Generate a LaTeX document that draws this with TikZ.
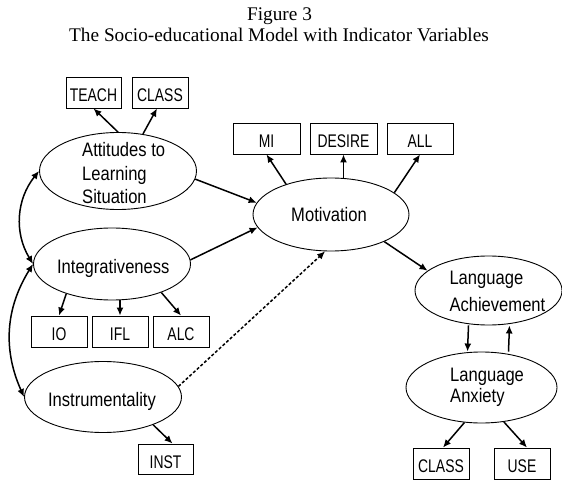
\documentclass[tikz,border=0pt]{standalone}
\usepackage{fontspec}
\setmainfont{Liberation Serif}
\newfontfamily\ellfont[FakeStretch=0.85]{Liberation Sans}
\newfontfamily\boxfont[FakeStretch=0.76]{Liberation Sans}
\usetikzlibrary{shapes.geometric,arrows.meta}

\begin{document}
\begin{tikzpicture}[x=1pt, y=-1pt,
    ell/.style = {draw, ellipse, inner sep=0pt, line width=0.9pt},
    ind/.style = {draw, inner sep=0pt, minimum width=56pt, minimum height=31pt,
      line width=0.9pt, text height=18pt, text depth=0pt,
      font=\boxfont\fontsize{18.3}{18}\selectfont},
    lbl/.style = {inner sep=0pt, align=left, font=\ellfont\fontsize{19.5}{23.3}\selectfont},
    arr/.style = {-{Latex[length=8pt,width=7pt]}, line width=1.5pt},
    dbl/.style = {{Latex[length=8pt,width=7pt]}-{Latex[length=8pt,width=7pt]}, line width=1.5pt},
    ttl/.style = {inner sep=0pt, anchor=base, font=\fontsize{19.3}{23}\selectfont}]
  \useasboundingbox (0,0) rectangle (562,481);

  % title
  \node [ttl] (fig) at (279.5,21) {Figure 3};
  \node [ttl] (head) at (279,42) {The Socio-educational Model with Indicator Variables};

  % latent variables
  \node [ell, minimum width=157pt, minimum height=77pt] (att) at (118,171) {};
  \node [ell, minimum width=157pt, minimum height=72pt] (int) at (112,264) {};
  \node [ell, minimum width=157pt, minimum height=71pt] (ins) at (103,397) {};
  \node [ell, minimum width=156pt, minimum height=73pt] (mot) at (331,214.5) {};
  \node [ell, minimum width=147pt, minimum height=69pt] (lach) at (488.5,290.5) {};
  \node [ell, minimum width=151pt, minimum height=71pt] (lanx) at (481.5,387.5) {};

  \node [lbl, anchor=north west] (att-l) at (82,142.5) {Attitudes to\\Learning\\Situation};
  \node [lbl, anchor=base] (int-l) at (113.3,273.3) {Integrativeness};
  \node [lbl, anchor=base] (ins-l) at (102,406) {Instrumentality};
  \node [lbl, anchor=base] (mot-l) at (329,222) {Motivation};
  \node [lbl, anchor=north west, font=\ellfont\fontsize{19.5}{26.7}\selectfont]
    (lach-l) at (449.3,271) {Language\\Achievement};
  \node [lbl, anchor=north west, font=\ellfont\fontsize{19.5}{21.5}\selectfont]
    (lanx-l) at (450,367.7) {Language\\Anxiety};

  % indicators
  \node [ind, minimum width=55pt] (teach) at (93.5,92.5) {TEACH};
  \node [ind] (classa) at (160,92.5) {CLASS};
  \node [ind, minimum width=67pt] (mi) at (266.5,138.5) {MI};
  \node [ind, minimum width=67pt] (desire) at (343.5,138.5) {DESIRE};
  \node [ind, minimum width=66pt] (all) at (420,138.5) {ALL};
  \node [ind] (io) at (59,331.5) {IO};
  \node [ind] (ifl) at (120,331.5) {IFL};
  \node [ind] (alc) at (181,331.5) {ALC};
  \node [ind, minimum width=55pt, minimum height=30pt] (inst) at (165.5,459) {INST};
  \node [ind] (classb) at (441,463.5) {CLASS};
  \node [ind] (use) at (522,463.5) {USE};

  % paths
  \draw [arr] (att.north) -- (teach.south);
  \draw [arr] (att.56) -- ([xshift=-3pt]classa.south);
  \draw [arr] (att.-6) -- (mot.171);
  \draw [arr] (int.3) -- (mot.190);
  \draw [arr, dash pattern=on 3pt off 2pt] (ins.8) -- (mot.261);
  \draw [arr] (mot.146) -- (mi.south);
  \draw [arr] (mot.north -| desire.south) -- (desire.south);
  \draw [arr] (mot.19) -- (all.south);
  \draw [arr] (mot.-27) -- (lach.162);
  \draw [arr] ([xshift=-20pt]lach.south) -- ([xshift=-14pt]lanx.north);
  \draw [arr] ([xshift=27pt]lanx.north) -- ([xshift=21pt]lach.south);
  \draw [arr] (lanx.244) -- ([xshift=2pt]classb.north);
  \draw [arr] (lanx.303) -- ([xshift=5pt]use.north);
  \draw [arr] (int.213) -- (io.north);
  \draw [arr] (int.south -| ifl.north) -- (ifl.north);
  \draw [arr] (int.330) -- (alc.north);
  \draw [arr] (ins.331) -- ([xshift=7pt]inst.north);

  % correlations
  \draw [dbl] (att.west) to [bend right=35] (int.west);
  \draw [dbl] (int.west) to [bend right=28] (ins.west);
\end{tikzpicture}
\end{document}
